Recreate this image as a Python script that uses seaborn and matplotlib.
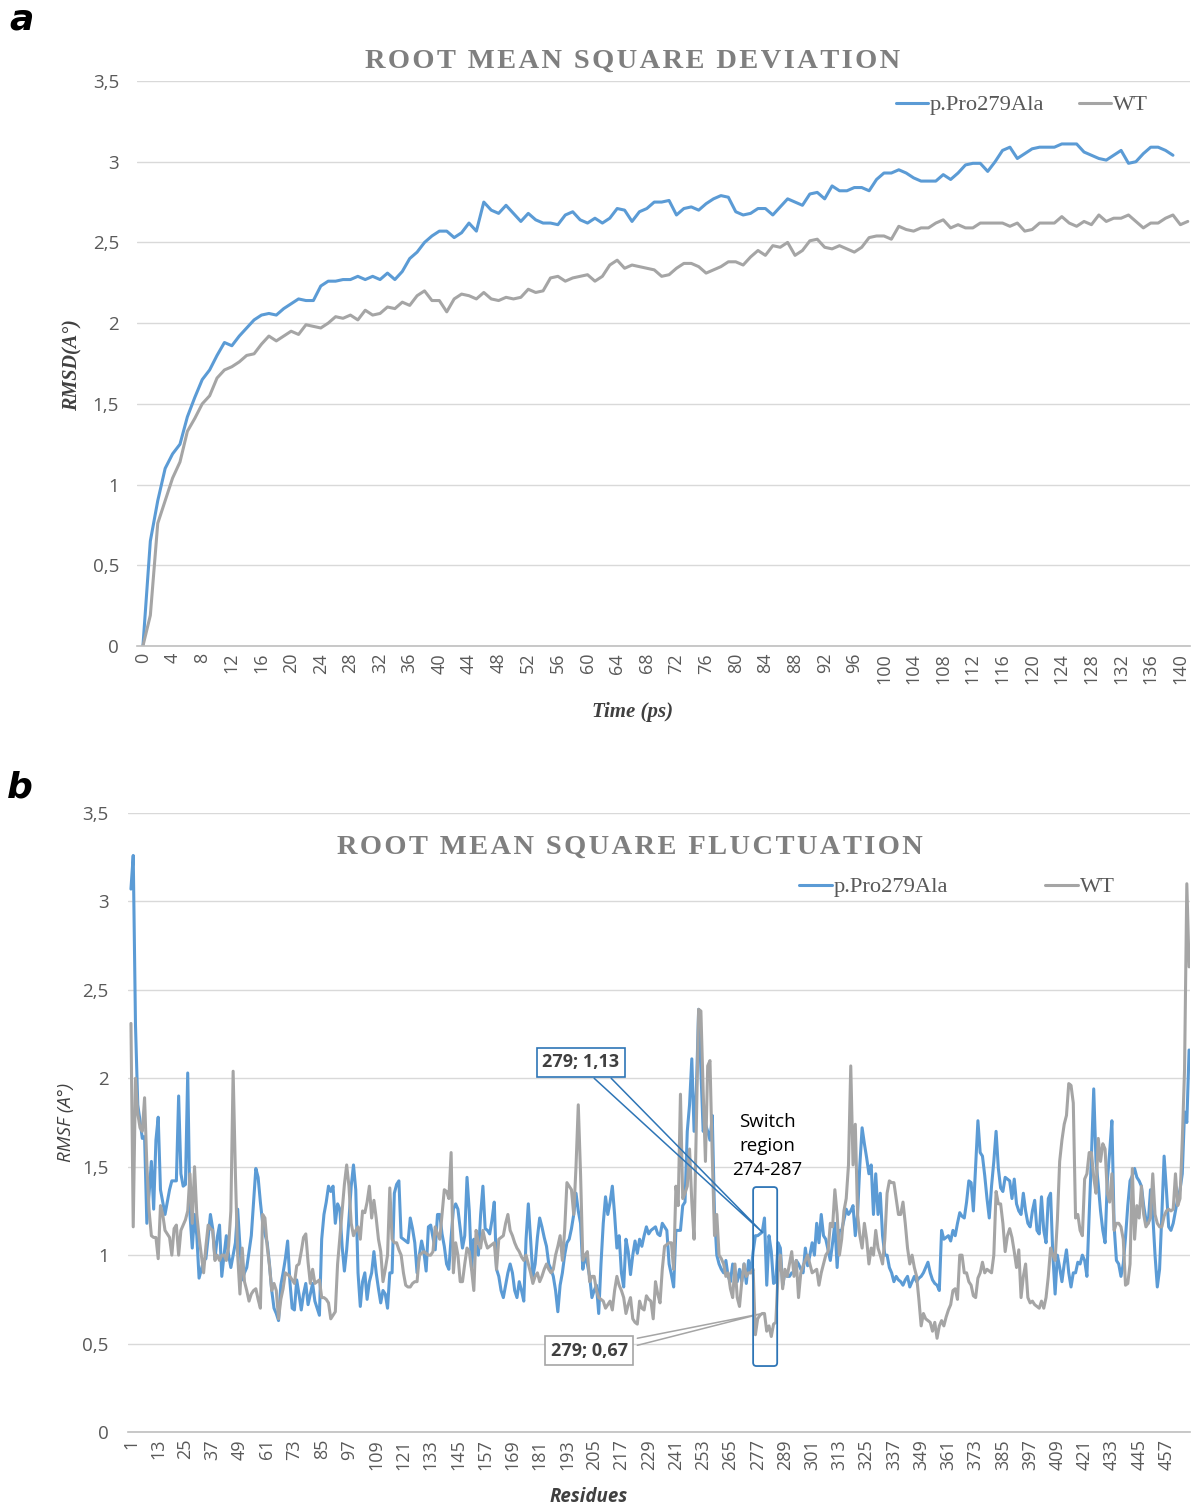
import numpy as np
import pandas as pd
import seaborn as sns
import matplotlib.pyplot as plt
from matplotlib.patches import FancyBboxPatch

# ---- RMSD (panel a) ----
time_mut = list(range(0, 140))
rmsd_mut = [0.00, 0.65, 0.90, 1.10, 1.19, 1.25, 1.42, 1.54, 1.65, 1.71,
            1.80, 1.88, 1.86, 1.92, 1.97, 2.02, 2.05, 2.06, 2.05, 2.09,
            2.12, 2.15, 2.14, 2.14, 2.23, 2.26, 2.26, 2.27, 2.27, 2.29,
            2.27, 2.29, 2.27, 2.31, 2.27, 2.32, 2.40, 2.44, 2.50, 2.54,
            2.57, 2.57, 2.53, 2.56, 2.62, 2.57, 2.75, 2.70, 2.68, 2.73,
            2.68, 2.63, 2.68, 2.64, 2.62, 2.62, 2.61, 2.67, 2.69, 2.64,
            2.62, 2.65, 2.62, 2.65, 2.71, 2.70, 2.63, 2.69, 2.71, 2.75,
            2.75, 2.76, 2.67, 2.71, 2.72, 2.70, 2.74, 2.77, 2.79, 2.78,
            2.69, 2.67, 2.68, 2.71, 2.71, 2.67, 2.72, 2.77, 2.75, 2.73,
            2.80, 2.81, 2.77, 2.85, 2.82, 2.82, 2.84, 2.84, 2.82, 2.89,
            2.93, 2.93, 2.95, 2.93, 2.90, 2.88, 2.88, 2.88, 2.92, 2.89,
            2.93, 2.98, 2.99, 2.99, 2.94, 3.00, 3.07, 3.09, 3.02, 3.05,
            3.08, 3.09, 3.09, 3.09, 3.11, 3.11, 3.11, 3.06, 3.04, 3.02,
            3.01, 3.04, 3.07, 2.99, 3.00, 3.05, 3.09, 3.09, 3.07, 3.04]
time_wt = list(range(0, 142))
rmsd_wt = [0.00, 0.19, 0.76, 0.90, 1.04, 1.14, 1.33, 1.41, 1.50, 1.55,
           1.66, 1.71, 1.73, 1.76, 1.80, 1.81, 1.87, 1.92, 1.89, 1.92,
           1.95, 1.93, 1.99, 1.98, 1.97, 2.00, 2.04, 2.03, 2.05, 2.02,
           2.08, 2.05, 2.06, 2.10, 2.09, 2.13, 2.11, 2.17, 2.20, 2.14,
           2.14, 2.07, 2.15, 2.18, 2.17, 2.15, 2.19, 2.15, 2.14, 2.16,
           2.15, 2.16, 2.21, 2.19, 2.20, 2.28, 2.29, 2.26, 2.28, 2.29,
           2.30, 2.26, 2.29, 2.36, 2.39, 2.34, 2.36, 2.35, 2.34, 2.33,
           2.29, 2.30, 2.34, 2.37, 2.37, 2.35, 2.31, 2.33, 2.35, 2.38,
           2.38, 2.36, 2.41, 2.45, 2.42, 2.48, 2.47, 2.50, 2.42, 2.45,
           2.51, 2.52, 2.47, 2.46, 2.48, 2.46, 2.44, 2.47, 2.53, 2.54,
           2.54, 2.52, 2.60, 2.58, 2.57, 2.59, 2.59, 2.62, 2.64, 2.59,
           2.61, 2.59, 2.59, 2.62, 2.62, 2.62, 2.62, 2.60, 2.62, 2.57,
           2.58, 2.62, 2.62, 2.62, 2.66, 2.62, 2.60, 2.63, 2.61, 2.67,
           2.63, 2.65, 2.65, 2.67, 2.63, 2.59, 2.62, 2.62, 2.65, 2.67,
           2.61, 2.63]
time_ticks = list(range(0, 141, 4))

# ---- RMSF (panel b) ----
residues = list(range(1, 468))
rmsf_mut = [3.07, 3.26, 2.30, 1.85, 1.76, 1.66, 1.67, 1.18, 1.35, 1.53,
            1.26, 1.65, 1.78, 1.37, 1.30, 1.23, 1.30, 1.37, 1.42, 1.42,
            1.42, 1.90, 1.46, 1.39, 1.40, 2.03, 1.23, 1.04, 1.23, 1.11,
            0.87, 0.92, 0.97, 0.98, 1.10, 1.23, 1.15, 0.98, 1.10, 1.17,
            0.88, 1.00, 1.11, 1.00, 0.93, 1.00, 1.07, 1.26, 1.05, 0.86,
            0.90, 0.93, 1.02, 1.11, 1.30, 1.49, 1.44, 1.30, 1.18, 1.12,
            1.07, 0.95, 0.80, 0.70, 0.67, 0.63, 0.83, 0.90, 0.98, 1.08,
            0.85, 0.70, 0.69, 0.86, 0.78, 0.69, 0.78, 0.84, 0.72, 0.78,
            0.84, 0.74, 0.70, 0.66, 1.09, 1.23, 1.30, 1.39, 1.36, 1.39,
            1.18, 1.29, 1.26, 1.05, 0.91, 1.03, 1.20, 1.39, 1.51, 1.37,
            0.90, 0.71, 0.85, 0.90, 0.75, 0.85, 0.90, 1.02, 0.90, 0.81,
            0.73, 0.80, 0.78, 0.70, 0.90, 0.90, 1.35, 1.40, 1.42, 1.10,
            1.09, 1.08, 1.07, 1.21, 1.15, 1.07, 0.90, 1.00, 1.08, 1.02,
            0.91, 1.16, 1.17, 1.10, 1.03, 1.23, 1.23, 1.12, 1.05, 0.95,
            0.92, 1.10, 1.26, 1.29, 1.26, 1.15, 1.04, 1.11, 1.44, 1.25,
            0.92, 1.09, 1.05, 1.00, 1.23, 1.39, 1.15, 1.14, 1.12, 1.20,
            1.30, 0.92, 0.88, 0.80, 0.76, 0.83, 0.90, 0.95, 0.90, 0.80,
            0.76, 0.85, 0.80, 0.74, 1.09, 1.29, 1.09, 0.88, 0.95, 1.10,
            1.21, 1.16, 1.10, 1.05, 0.95, 0.92, 0.88, 0.80, 0.68, 0.83,
            0.90, 1.00, 1.07, 1.09, 1.15, 1.23, 1.35, 1.25, 1.18, 0.92,
            1.00, 0.95, 0.88, 0.76, 0.80, 0.83, 0.67, 0.95, 1.18, 1.33,
            1.23, 1.30, 1.39, 1.23, 1.04, 1.11, 0.90, 0.82, 1.09, 1.02,
            0.89, 1.00, 1.08, 1.01, 1.09, 1.05, 1.11, 1.16, 1.12, 1.14,
            1.15, 1.16, 1.12, 1.11, 1.18, 1.16, 1.14, 0.95, 0.89, 0.82,
            1.14, 1.14, 1.14, 1.28, 1.30, 1.70, 1.85, 2.11, 1.70, 1.93,
            2.39, 2.05, 1.70, 1.74, 1.70, 1.65, 1.79, 1.23, 1.00, 0.95,
            0.92, 0.90, 0.97, 0.88, 0.85, 0.95, 0.88, 0.85, 0.92, 0.85,
            0.95, 0.84, 0.97, 0.90, 1.02, 1.11, 1.11, 1.12, 1.13, 1.21,
            0.83, 1.11, 1.02, 0.84, 0.85, 1.07, 1.04, 0.83, 0.90, 0.88,
            0.88, 0.90, 0.90, 0.97, 0.95, 0.92, 0.90, 1.04, 0.94, 1.00,
            1.07, 1.00, 1.18, 1.07, 1.23, 1.11, 1.09, 1.03, 0.97, 1.07,
            1.18, 0.93, 1.14, 1.14, 1.20, 1.26, 1.23, 1.25, 1.28, 1.11,
            1.23, 1.51, 1.72, 1.63, 1.55, 1.46, 1.51, 1.23, 1.46, 1.23,
            1.35, 1.11, 1.00, 1.00, 0.93, 0.90, 0.85, 0.88, 0.86, 0.85,
            0.83, 0.86, 0.88, 0.82, 0.85, 0.88, 0.85, 0.87, 0.88, 0.90,
            0.93, 0.96, 0.90, 0.86, 0.84, 0.83, 0.80, 1.14, 1.09, 1.10,
            1.11, 1.08, 1.14, 1.11, 1.18, 1.24, 1.22, 1.21, 1.30, 1.42,
            1.41, 1.25, 1.51, 1.76, 1.58, 1.56, 1.45, 1.32, 1.21, 1.39,
            1.53, 1.70, 1.49, 1.38, 1.36, 1.44, 1.43, 1.42, 1.32, 1.43,
            1.29, 1.25, 1.23, 1.35, 1.25, 1.18, 1.16, 1.25, 1.31, 1.14,
            1.12, 1.33, 1.14, 1.07, 1.32, 1.35, 1.00, 0.78, 1.00, 0.93,
            0.85, 0.95, 1.03, 0.90, 0.82, 0.90, 0.90, 0.96, 0.95, 1.00,
            0.97, 0.88, 1.23, 1.56, 1.94, 1.53, 1.40, 1.25, 1.14, 1.07,
            1.42, 1.58, 1.76, 1.16, 0.97, 0.95, 0.88, 0.95, 1.10, 1.28,
            1.42, 1.45, 1.49, 1.44, 1.42, 1.39, 1.28, 1.20, 1.18, 1.37,
            1.23, 1.00, 0.82, 0.92, 1.23, 1.56, 1.37, 1.16, 1.14, 1.18,
            1.25, 1.32, 1.37, 1.46, 1.81, 1.75, 2.16]
rmsf_wt = [2.31, 1.16, 2.00, 1.80, 1.72, 1.70, 1.89, 1.51, 1.25, 1.11,
           1.10, 1.10, 0.98, 1.28, 1.23, 1.14, 1.12, 1.10, 1.00, 1.15,
           1.17, 1.00, 1.14, 1.17, 1.20, 1.25, 1.46, 1.18, 1.50, 1.23,
           1.10, 1.00, 0.90, 1.05, 1.17, 1.15, 1.14, 0.97, 1.00, 0.97,
           1.00, 1.00, 0.97, 1.05, 1.25, 2.04, 1.46, 1.00, 0.78, 1.04,
           0.85, 0.80, 0.74, 0.78, 0.80, 0.81, 0.75, 0.70, 1.23, 1.21,
           1.05, 0.94, 0.80, 0.84, 0.80, 0.64, 0.75, 0.81, 0.90, 0.89,
           0.88, 0.86, 0.84, 0.94, 0.95, 1.02, 1.10, 1.12, 0.96, 0.84,
           0.92, 0.84, 0.85, 0.86, 0.76, 0.76, 0.75, 0.73, 0.64, 0.66,
           0.68, 0.95, 1.10, 1.25, 1.40, 1.51, 1.39, 1.18, 1.11, 1.14,
           1.16, 1.09, 1.25, 1.24, 1.30, 1.39, 1.21, 1.31, 1.21, 1.09,
           1.02, 0.85, 0.92, 1.00, 1.38, 1.09, 1.07, 1.07, 1.03, 1.00,
           0.90, 0.83, 0.82, 0.82, 0.84, 0.85, 0.85, 1.00, 1.01, 1.02,
           1.01, 1.00, 1.00, 1.02, 1.16, 1.12, 1.09, 1.23, 1.37, 1.36,
           1.32, 1.58, 0.90, 1.07, 1.00, 0.85, 0.85, 0.95, 1.04, 1.02,
           0.92, 0.80, 1.14, 1.07, 1.04, 1.14, 1.08, 1.04, 1.05, 1.06,
           1.07, 0.92, 1.09, 1.10, 1.11, 1.18, 1.23, 1.14, 1.11, 1.07,
           1.04, 1.02, 0.99, 0.97, 1.00, 0.95, 0.90, 0.84, 0.88, 0.90,
           0.85, 0.88, 0.92, 0.95, 0.92, 0.90, 0.92, 1.00, 1.05, 1.11,
           0.97, 1.14, 1.41, 1.39, 1.37, 1.23, 1.50, 1.85, 1.46, 0.97,
           1.00, 1.02, 0.85, 0.88, 0.88, 0.80, 0.76, 0.75, 0.74, 0.70,
           0.72, 0.74, 0.69, 0.80, 0.88, 0.83, 0.80, 0.76, 0.67, 0.72,
           0.76, 0.64, 0.62, 0.61, 0.74, 0.70, 0.69, 0.77, 0.75, 0.74,
           0.64, 0.85, 0.78, 0.73, 0.92, 1.05, 1.06, 1.07, 1.07, 0.92,
           1.39, 1.28, 1.91, 1.32, 1.35, 1.39, 1.60, 1.30, 1.09, 1.74,
           2.39, 2.38, 1.93, 1.53, 2.07, 2.10, 1.56, 1.11, 1.23, 1.00,
           0.98, 0.95, 0.88, 0.90, 0.81, 0.76, 0.95, 0.76, 0.71, 0.85,
           0.95, 0.88, 0.90, 0.90, 0.92, 0.55, 0.64, 0.66, 0.67, 0.67,
           0.57, 0.60, 0.54, 0.61, 0.62, 0.90, 1.00, 0.81, 0.92, 0.88,
           0.95, 1.02, 0.88, 0.97, 0.76, 0.90, 0.94, 0.97, 1.00, 0.95,
           0.90, 0.91, 0.92, 0.83, 0.90, 0.95, 1.00, 1.02, 1.18, 1.16,
           1.37, 1.23, 1.00, 1.09, 1.25, 1.32, 1.51, 2.07, 1.51, 1.74,
           1.23, 1.11, 1.04, 1.18, 1.09, 0.95, 1.04, 1.00, 1.14, 1.04,
           1.00, 0.95, 1.09, 1.35, 1.42, 1.41, 1.41, 1.32, 1.23, 1.23,
           1.30, 1.18, 1.04, 0.95, 1.00, 0.93, 0.88, 0.75, 0.60, 0.67,
           0.64, 0.63, 0.62, 0.57, 0.62, 0.53, 0.60, 0.63, 0.60, 0.65,
           0.69, 0.72, 0.80, 0.81, 0.75, 1.00, 1.00, 0.90, 0.90, 0.85,
           0.83, 0.77, 0.76, 0.87, 0.90, 0.96, 0.90, 0.92, 0.91, 0.90,
           1.00, 1.36, 1.29, 1.29, 1.18, 1.02, 1.11, 1.15, 1.10, 1.02,
           0.93, 1.03, 0.76, 0.88, 0.95, 0.76, 0.73, 0.74, 0.72, 0.71,
           0.70, 0.74, 0.70, 0.76, 0.88, 1.04, 1.00, 0.97, 1.20, 1.53,
           1.65, 1.74, 1.79, 1.97, 1.96, 1.86, 1.21, 1.23, 1.14, 1.11,
           1.43, 1.46, 1.58, 1.58, 1.44, 1.35, 1.66, 1.53, 1.63, 1.60,
           1.35, 1.30, 1.46, 1.14, 1.18, 1.18, 1.16, 1.09, 0.83, 0.84,
           0.95, 1.49, 1.09, 1.28, 1.21, 1.39, 1.23, 1.16, 1.18, 1.21,
           1.46, 1.23, 1.18, 1.16, 1.16, 1.22, 1.25, 1.26, 1.25, 1.26,
           1.46, 1.28, 1.32, 1.65, 2.05, 3.10, 2.63]
residue_ticks = list(range(1, 458, 12))

y_ticks = [0, 0.5, 1, 1.5, 2, 2.5, 3, 3.5]
y_labels = ["0", "0,5", "1", "1,5", "2", "2,5", "3", "3,5"]

blue = "#5b9bd5"
grey = "#a5a5a5"
txt = "#595959"

sns.set_theme(style="white")
plt.rcParams["font.family"] = ["Open Sans", "DejaVu Sans"]

W, H = 1199, 1506
fig = plt.figure(figsize=(W / 100, H / 100), dpi=100)

def px_axes(left, right, top, bottom):
    return fig.add_axes([left / W, 1 - bottom / H, (right - left) / W, (bottom - top) / H])

def style_axis(ax, ypad):
    ax.set_ylim(0, 3.5)
    ax.set_yticks(y_ticks, y_labels)
    ax.grid(axis="y", color="#d9d9d9", lw=1)
    ax.grid(axis="x", visible=False)
    for s in ["top", "right", "left"]:
        ax.spines[s].set_visible(False)
    ax.spines["bottom"].set_color("#bfbfbf")
    ax.spines["bottom"].set_linewidth(1.2)
    ax.tick_params(axis="both", length=0, colors=txt, labelsize=13.5)
    ax.tick_params(axis="y", pad=ypad)
    ax.tick_params(axis="x", pad=5, labelrotation=90, labelsize=13)
    ax.set_xlabel("")
    ax.set_ylabel("")

serif = "Liberation Serif"
hair = "\u200a"

def spaced(s):
    # wide letter spacing as in the original chart titles
    return hair.join(s)

# ---------- panel a ----------
ax1 = px_axes(137, 1190, 81, 646)
sns.lineplot(x=time_mut, y=rmsd_mut, ax=ax1, color=blue, lw=2.2, label="p.Pro279Ala")
sns.lineplot(x=time_wt, y=rmsd_wt, ax=ax1, color=grey, lw=2.2, label="WT")
ax1.set_xlim(-0.8, 141.3)
ax1.set_xticks(time_ticks, [str(t) for t in time_ticks])
style_axis(ax1, 13)
leg = ax1.legend(loc="center left", bbox_to_anchor=(896 / W, 1 - 105 / H),
                 bbox_transform=fig.transFigure, ncol=2, frameon=False,
                 prop={"family": serif, "size": 16.2}, handlelength=1.4,
                 handletextpad=0.1, columnspacing=1.55, borderpad=0, borderaxespad=0)
for t in leg.get_texts():
    t.set_color(txt)

fig.text(633 / W, 1 - 61 / H, spaced("ROOT MEAN SQUARE DEVIATION"), ha="center", va="center",
         family=[serif, "DejaVu Serif"], weight="bold", size=20.5, color="#7f7f7f")
fig.text(73 / W, 1 - 365 / H, "RMSD(A°)", rotation=90, ha="center", va="center",
         family=serif, style="italic", weight="bold", size=14.5, color="#404040")
fig.text(633 / W, 1 - 712 / H, "Time (ps)", ha="center", va="center",
         family=serif, style="italic", weight="bold", size=15, color="#404040")
fig.text(22 / W, 1 - 20 / H, "a", ha="center", va="center",
         family="DejaVu Sans", style="italic", weight="heavy", size=26, color="black")

# ---------- panel b ----------
ax2 = px_axes(128, 1190, 813, 1432)
sns.lineplot(x=residues, y=rmsf_mut, ax=ax2, color=blue, lw=2.2, label="p.Pro279Ala")
sns.lineplot(x=residues, y=rmsf_wt, ax=ax2, color=grey, lw=2.2, label="WT")
ax2.set_xlim(-0.3, 467.4)
ax2.set_xticks(residue_ticks, [str(r) for r in residue_ticks])
style_axis(ax2, 14)
leg2 = ax2.legend(loc="center left", bbox_to_anchor=(799 / W, 1 - 887 / H),
                  bbox_transform=fig.transFigure, ncol=2, frameon=False,
                  prop={"family": serif, "size": 16.2}, handlelength=1.45,
                  handletextpad=0.1, columnspacing=4.3, borderpad=0, borderaxespad=0)
for t in leg2.get_texts():
    t.set_color(txt)

fig.text(630 / W, 1 - 847 / H, spaced("ROOT MEAN SQUARE FLUCTUATION"), ha="center", va="center",
         family=[serif, "DejaVu Serif"], weight="bold", size=20.5, color="#7f7f7f")
fig.text(66 / W, 1 - 1122 / H, "RMSF (A°)", rotation=90, ha="center", va="center",
         style="italic", size=13.5, color="#404040")
fig.text(589 / W, 1 - 1497 / H, "Residues", ha="center", va="center",
         style="italic", weight="bold", size=13.5, color="#404040")
fig.text(20 / W, 1 - 788 / H, "b", ha="center", va="center",
         family="DejaVu Sans", style="italic", weight="heavy", size=26, color="black")

# callouts for residue 279
r279 = residues.index(279)
mut_pt = (279, rmsf_mut[r279])
wt_pt = (279, rmsf_wt[r279])
ax2.plot([205, mut_pt[0], 212.5], [2.0, mut_pt[1], 2.0], color="#2e75b6", lw=1.1, zorder=4)
ax2.text(199.2, 2.09, "279; 1,13", ha="center", va="center", size=13, weight="bold",
         color="#404040", zorder=5,
         bbox=dict(boxstyle="square,pad=0.3", fc="white", ec="#2e75b6", lw=1.2))
ax2.plot([224, wt_pt[0], 224], [0.53, wt_pt[1], 0.49], color="#a5a5a5", lw=1.1, zorder=4)
ax2.text(202.8, 0.46, "279; 0,67", ha="center", va="center", size=13, weight="bold",
         color="#404040", zorder=5,
         bbox=dict(boxstyle="square,pad=0.3", fc="white", ec="#a5a5a5", lw=1.2))

# switch region 274-287
box = FancyBboxPatch((275, 0.373), 10.6, 1.012,
                     boxstyle="round,pad=0,rounding_size=1.5",
                     mutation_aspect=0.0128, fc="none", ec="#2e75b6", lw=1.3, zorder=6)
ax2.add_patch(box)
ax2.text(281.2, 1.617, "Switch\nregion\n274-287", ha="center", va="center",
         size=13.5, color="black", linespacing=1.4)

fig.savefig("out.png", dpi=100)
